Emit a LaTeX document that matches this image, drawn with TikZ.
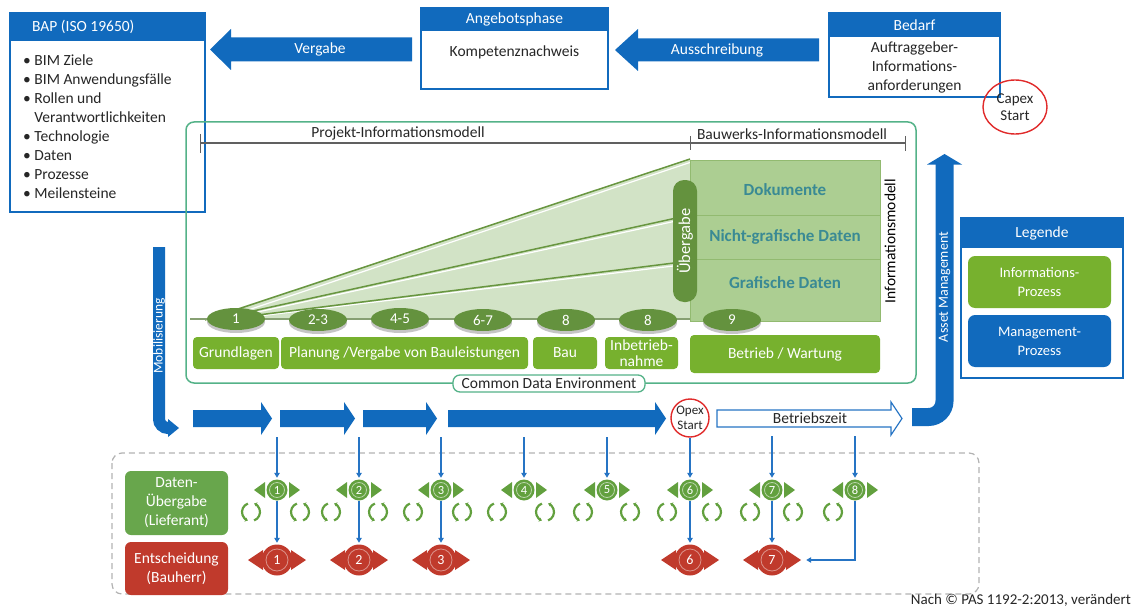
\documentclass[tikz,border=0pt]{standalone}
\usepackage{fontspec}
\setmainfont{Carlito}
\usetikzlibrary{arrows.meta,shapes.geometric,shadows}

\definecolor{mblue}{RGB}{17,106,189}
\definecolor{cblue}{RGB}{38,116,196}
\definecolor{pgreen}{RGB}{119,177,46}
\definecolor{egreen}{RGB}{100,146,62}
\definecolor{wedgefill}{RGB}{210,227,198}
\definecolor{wedgeline}{RGB}{104,150,64}
\definecolor{stageline}{RGB}{135,160,115}
\definecolor{blockfill}{RGB}{172,206,146}
\definecolor{blockline}{RGB}{146,186,112}
\definecolor{tealtext}{RGB}{58,138,148}
\definecolor{cdeline}{RGB}{84,178,136}
\definecolor{dgreen}{RGB}{104,166,76}
\definecolor{mgreen}{RGB}{98,160,62}
\definecolor{mred}{RGB}{192,58,44}
\definecolor{cred}{RGB}{224,42,42}
\definecolor{dimgray}{RGB}{96,96,96}
\definecolor{dashgray}{RGB}{178,178,178}
\definecolor{ink}{RGB}{38,38,38}

\newcommand\fsz[2]{\fontsize{#1}{#2}\selectfont}

\tikzset{
  frame/.style={draw=mblue, line width=1.6pt},
  headtext/.style={text=white, font=\fsz{15.5}{18}, inner sep=0pt},
  bodytext/.style={text=ink, font=\fsz{15.5}{19}, align=center, inner sep=0pt},
  arrowtext/.style={text=white, font=\fsz{15.5}{18}, inner sep=0pt},
  dimtext/.style={text=ink, font=\fsz{15.5}{18}, inner sep=0pt},
  phase/.style={fill=pgreen, rounded corners=4pt, text=white, font=\fsz{15.5}{16}, align=center, inner sep=0pt},
  stage/.style={ellipse, fill=egreen, text=white, font=\fsz{15}{16}, minimum width=58pt, minimum height=22pt, inner sep=0pt,
    drop shadow={shadow xshift=0pt, shadow yshift=-3pt, fill=black!45, opacity=0.5}},
  layer/.style={text=tealtext, font=\bfseries\fsz{17}{18}, inner sep=0pt},
  vtext/.style={rotate=90, inner sep=0pt},
  legbox/.style={rounded corners=7pt, minimum width=143pt, minimum height=52pt, text=white, align=center, font=\fsz{14.5}{19}, inner sep=0pt},
  rolebox/.style={rounded corners=6pt, minimum width=103pt, text=white, align=center, font=\fsz{15.5}{19}, inner sep=0pt},
  gdot/.style={circle, fill=mgreen, text=white, minimum size=21pt, inner sep=0pt, font=\fsz{12.5}{13},
    path picture={\draw[white!55!mgreen, line width=0.8pt] (path picture bounding box.center) circle (7.5pt);}},
  rdot/.style={circle, fill=mred, text=white, minimum size=31pt, inner sep=0pt, font=\fsz{14}{15},
    path picture={\draw[white!45!mred, line width=0.8pt] (path picture bounding box.center) circle (11pt);}},
  cyc/.style={draw=mgreen, line width=2.2pt, -{Stealth[length=3pt,width=4.5pt]}},
  conn/.style={draw=cblue, line width=1.1pt, -{Triangle[length=5pt,width=5.5pt]}, shorten >=1.5pt},
  startcirc/.style={draw=cred, line width=1.4pt, inner sep=0pt, align=center, text=ink}
}

\begin{document}
\begin{tikzpicture}[x=1pt,y=-1pt]
\useasboundingbox (0,0) rectangle (1135,607);

% ---------- BAP box
\draw[frame, fill=white] (10,13) rectangle (205,212);
\fill[mblue] (10,13) rectangle (205,41);
\node[headtext, anchor=west] (bapt) at (32,27) {BAP (ISO 19650)};
\node[text=ink, font=\fsz{15.5}{18.9}, align=left, inner sep=0pt, anchor=north west] (baplist) at (23,55)
  {\textbullet\ BIM Ziele\\
   \textbullet\ BIM Anwendungsfälle\\
   \textbullet\ Rollen und\\
   \hphantom{\textbullet\ }Verantwortlichkeiten\\
   \textbullet\ Technologie\\
   \textbullet\ Daten\\
   \textbullet\ Prozesse\\
   \textbullet\ Meilensteine};

% ---------- Angebotsphase box
\draw[frame, fill=white] (421,8) rectangle (608,89);
\fill[mblue] (421,8) rectangle (608,31);
\node[headtext] (angt) at (514.5,19.5) {Angebotsphase};
\node[bodytext] (kompt) at (514.5,52) {Kompetenznachweis};

% ---------- Bedarf box
\draw[frame, fill=white] (829,13) rectangle (1000,97);
\fill[mblue] (829,13) rectangle (1000,37);
\node[headtext] (bedt) at (914.5,25) {Bedarf};
\node[bodytext] (aia) at (914.5,67) {Auftraggeber-\\Informations-\\anforderungen};

\node[startcirc, ellipse, minimum width=64pt, minimum height=54pt, font=\fsz{15}{17.5}] (capex) at (1015,107) {Capex\\Start};

% ---------- top block arrows
\fill[mblue] (210,49.5) -- (231,29) -- (231,37.5) -- (412,37.5) -- (412,61.5) -- (231,61.5) -- (231,70) -- cycle;
\node[arrowtext] (vergabe) at (320,49.5) {Vergabe};
\fill[mblue] (615,50) -- (638,29) -- (638,38.5) -- (819,38.5) -- (819,61.5) -- (638,61.5) -- (638,71) -- cycle;
\node[arrowtext] (aus) at (717,50) {Ausschreibung};

% ---------- Common Data Environment frame
\draw[cdeline, line width=1.5pt, rounded corners=8pt] (186,122) rectangle (916,383);

% model extents
\draw[dimgray, line width=1.2pt] (200,143) -- (905,143);
\draw[dimgray, line width=1pt] (200,134) -- (200,153);
\draw[dimgray, line width=1pt] (690,136) -- (690,150);
\draw[dimgray, line width=1pt] (905,136) -- (905,151);
\node[dimtext] (pim) at (398,133) {Projekt-Informationsmodell};
\node[dimtext] (aim) at (792,134) {Bauwerks-Informationsmodell};

% growing information wedge
\fill[wedgefill] (205,319) -- (690,159) -- (690,319) -- cycle;
\draw[white, line width=1.2pt] (230,316) -- (690,162.5);
\draw[white, line width=1.2pt] (230,318) -- (690,218);
\draw[white, line width=1.2pt] (230,319.5) -- (690,264);
\draw[wedgeline, line width=1.5pt] (205,320) -- (690,159);
\draw[wedgeline, line width=1.5pt] (212,320) -- (690,215);
\draw[wedgeline, line width=1.5pt] (218,320) -- (690,261);
\draw[stageline, line width=1.3pt] (190,319) -- (690,319);

% information model layers
\draw[blockline, fill=blockfill, line width=1pt] (690,160) rectangle (880,321);
\draw[blockline, line width=1pt] (690,215) -- (880,215);
\draw[blockline, line width=1pt] (690,259) -- (880,259);
\node[layer] (dok) at (785,190) {Dokumente};
\node[layer] (ngd) at (785,237) {Nicht-grafische Daten};
\node[layer] (gd) at (785,283) {Grafische Daten};

\node[fill=egreen, rounded corners=11pt, rotate=90, minimum width=122pt, minimum height=24pt, inner sep=0pt,
      text=white, font=\fsz{16.5}{17}] (ueb) at (685,241) {Übergabe};
\node[vtext, text=black, font=\fsz{15.5}{16}] (imodell) at (890,241) {Informationsmodell};

% stages
\node[stage] (st1) at (236,319) {1};
\node[stage] (st2) at (318,320) {2-3};
\node[stage] (st3) at (400,319) {4-5};
\node[stage] (st4) at (483,320) {6-7};
\node[stage] (st5) at (566,320) {8};
\node[stage] (st6) at (648,320) {8};
\node[stage] (st7) at (732,320) {9};

% phases
\node[phase, minimum width=86pt, minimum height=32pt] (grund) at (236,353) {Grundlagen};
\node[phase, minimum width=247pt, minimum height=32pt] (plan) at (404.5,353) {Planung /Vergabe von Bauleistungen};
\node[phase, minimum width=64pt, minimum height=32pt] (bau) at (565,353) {Bau};
\node[phase, minimum width=73pt, minimum height=32pt] (inbetr) at (641.5,353) {Inbetrieb-\\nahme};
\node[phase, minimum width=190pt, minimum height=38pt] (wartung) at (785,354) {Betrieb / Wartung};

\node[draw=cdeline, fill=white, rounded corners=7pt, line width=1.3pt, minimum width=192pt, minimum height=17pt,
      inner sep=0pt, text=ink, font=\fsz{15.5}{16}] (cdelabel) at (549,383.5) {Common Data Environment};

% ---------- Mobilisierung
\draw[mblue, line width=12pt, rounded corners=9pt] (159,247) -- (159,428) -- (170,428);
\fill[mblue] (168,419) -- (179,428) -- (168,437) -- cycle;
\node[vtext, text=white, font=\fsz{13.5}{14}] (mob) at (159,336) {Mobilisierung};

% ---------- project timeline
\foreach \a/\b in {193/272, 280/355, 363/437, 448/666}
  \fill[mblue] (\a,410) -- (\b-11,410) -- (\b-11,402) -- (\b,418.5) -- (\b-11,435) -- (\b-11,427) -- (\a,427) -- cycle;
\node[startcirc, circle, fill=white, minimum size=38pt, font=\fsz{13}{14.5}] (opex) at (690,418) {Opex\\Start};
\draw[cblue, line width=1.2pt, fill=white] (717,410) -- (891,410) -- (891,402) -- (902,418.5) -- (891,435) -- (891,427) -- (717,427) -- cycle;
\node[text=ink, font=\fsz{15.5}{16}, inner sep=0pt] (betrieb) at (810,418) {Betriebszeit};

% ---------- Asset Management
\draw[mblue, line width=18pt, rounded corners=16pt] (912,417) -- (944.5,417) -- (944.5,163);
\fill[mblue] (927,164.5) -- (944.5,154) -- (962,164.5) -- cycle;
\node[vtext, text=white, font=\fsz{14}{15}] (asset) at (944.5,287) {Asset Management};

% ---------- legend
\draw[frame, fill=white] (961,218) rectangle (1123,378);
\fill[mblue] (961,218) rectangle (1123,248);
\node[headtext] (legt) at (1042,233) {Legende};
\node[legbox, fill=pgreen] (leginfo) at (1039.5,282) {Informations-\\Prozess};
\node[legbox, fill=mblue] (legman) at (1039.5,341) {Management-\\Prozess};

% ---------- data drops and decisions
\draw[dashgray, line width=1.2pt, dash pattern=on 6pt off 4pt, rounded corners=10pt] (112,453) rectangle (979,594);
\node[rolebox, fill=dgreen, minimum height=64pt] (lief) at (176.5,503) {Daten-\\Übergabe\\(Lieferant)};
\node[rolebox, fill=mred, minimum height=53pt] (bauherr) at (176.5,568.5) {Entscheidung\\(Bauherr)};

\foreach \n/\x in {1/277,2/359,3/441,4/524,5/607,6/690,7/772,8/855} {
  \fill[mgreen] (\x-23,490) -- (\x-12,482) -- (\x-12,498) -- cycle;
  \fill[mgreen] (\x+23,490) -- (\x+12,482) -- (\x+12,498) -- cycle;
  \node[gdot] (g\n) at (\x,490) {\n};
}
\foreach \n/\x in {1/277,2/359,3/441,6/690,7/772} {
  \fill[mred] (\x-29,560) -- (\x-14,550) -- (\x-14,570) -- cycle;
  \fill[mred] (\x+29,560) -- (\x+14,550) -- (\x+14,570) -- cycle;
  \node[rdot] (r\n) at (\x,560) {\n};
}

\foreach \x in {251,300,331,378,413,462,497,545,583,630,667,712,750,793,833} {
  \draw[cyc] (\x,512) ++(110:9pt) arc[start angle=110, end angle=250, radius=9pt];
  \draw[cyc] (\x,512) ++(-70:9pt) arc[start angle=-70, end angle=70, radius=9pt];
}

% triggers from the timeline
\foreach \n/\x in {1/277,2/359,3/441,4/524,5/607}
  \coordinate (s\n) at (\x,437);
\coordinate (s7) at (772,436);
\coordinate (s8) at (855,436);
\foreach \n in {1,2,3,4,5,7,8}
  \draw[conn] (s\n) -- (g\n);
\draw[conn] (opex) -- (g6);
\foreach \n in {1,2,3,6,7}
  \draw[conn] (g\n) -- (r\n);
\draw[conn] (g8) |- ([xshift=17pt]r7.east);

\node[anchor=east, text=ink, font=\fsz{15}{16}, inner sep=0pt] (source) at (1131,600) {Nach © PAS 1192-2:2013, verändert};
\end{tikzpicture}
\end{document}
